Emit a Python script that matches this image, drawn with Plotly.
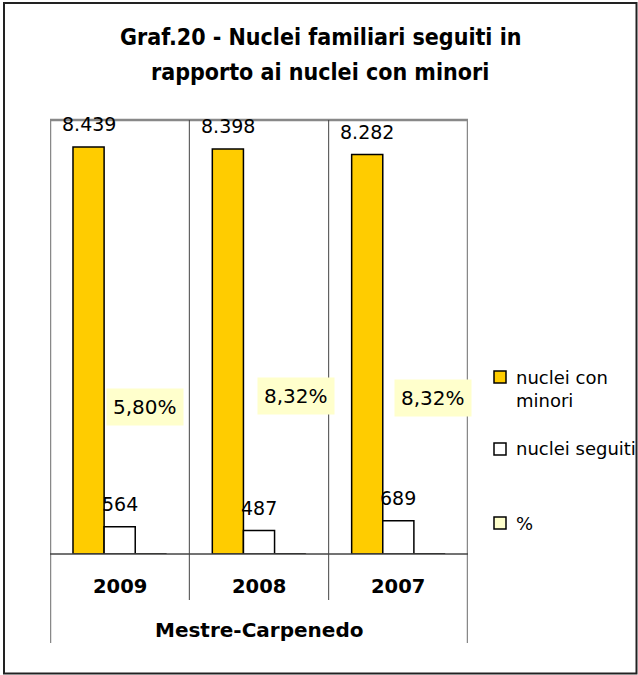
import plotly.graph_objects as go

# ---- data ----
years = ["2009", "2008", "2007"]
group_label = "Mestre-Carpenedo"
nuclei_con_minori = [8439, 8398, 8282]
nuclei_seguiti = [564, 487, 689]
percentuali = [5.80, 8.32, 8.32]
series_names = ["nuclei con<br>minori", "nuclei seguiti", "%"]
series_colors = ["#FFCC00", "#FFFFFF", "#FFFFCC"]
title_lines = ["Graf.20 - Nuclei familiari seguiti in", "rapporto ai nuclei con minori"]

def fmt_it(v):
    return f"{v:,}".replace(",", ".")

def fmt_pct(v):
    return f"{v:.2f}%".replace(".", ",")

# ---- geometry helpers (pixel -> paper) ----
W, H = 638, 675
L, R, T, B = 50, 468, 120, 554
def px(x):
    return (x - L) / (R - L)
def py(y):
    return (B - y) / (B - T)

FONT = "DejaVu Sans, sans-serif"
FONT_C = "DejaVu Sans Condensed, DejaVu Sans, sans-serif"
YMAX = 9000
BARGAP = 0.33
bw = (1 - BARGAP) / 3
xs = list(range(len(years)))

fig = go.Figure()
fig.add_trace(go.Bar(x=xs, y=nuclei_con_minori, name=series_names[0],
                     marker=dict(color=series_colors[0], line=dict(color="black", width=1.5))))
fig.add_trace(go.Bar(x=xs, y=nuclei_seguiti, name=series_names[1],
                     marker=dict(color=series_colors[1], line=dict(color="black", width=1.5))))
fig.add_trace(go.Bar(x=xs, y=percentuali, name=series_names[2],
                     marker=dict(color=series_colors[2], line=dict(color="black", width=1))))

txt = dict(family=FONT, color="black")
ann = []
# title
for k, line in enumerate(title_lines):
    ann.append(dict(x=px(320), y=py([37, 72][k]), xref="paper", yref="paper", text=f"<b>{line}</b>",
                    showarrow=False, xanchor="center", yanchor="middle",
                    font=dict(size=23, family=FONT_C, color="black")))
# value labels
for i, v in enumerate(nuclei_con_minori):
    ann.append(dict(x=i - bw, y=v, text=fmt_it(v), showarrow=False, yanchor="bottom",
                    yshift=10, font=dict(size=19, **txt)))
for i, v in enumerate(nuclei_seguiti):
    ann.append(dict(x=i, y=v, text=fmt_it(v), showarrow=False, yanchor="bottom",
                    yshift=10, font=dict(size=19, **txt)))
# percentage labels (placed mid-plot as in the original)
pct_label_pos = [(3048, -6), (3276, 6), (3235, 4)]
for i, v in enumerate(percentuali):
    yy, xsft = pct_label_pos[i]
    ann.append(dict(x=i + bw, y=yy, xshift=xsft, text=fmt_pct(v), showarrow=False,
                    yanchor="middle", bgcolor="#FFFFCC", borderpad=6,
                    font=dict(size=20, **txt)))
# category labels
for i, yr in enumerate(years):
    ann.append(dict(x=i, y=py(586), yref="paper", text=f"<b>{yr}</b>", showarrow=False,
                    yanchor="middle", font=dict(size=19.5, **txt)))
ann.append(dict(x=1, y=py(630), yref="paper", text=f"<b>{group_label}</b>", showarrow=False,
                yanchor="middle", font=dict(size=20, **txt)))

shapes = []
# outer frame
shapes.append(dict(type="rect", xref="paper", yref="paper", x0=px(4), x1=px(636.5), y0=py(673.5), y1=py(3),
                   line=dict(color="#222222", width=2)))
gray = "#888888"
shapes.append(dict(type="line", xref="x", yref="paper", x0=-0.5, x1=2.5, y0=1, y1=1,
                   line=dict(color=gray, width=2.5)))
for xv in (-0.5, 2.5):
    shapes.append(dict(type="line", xref="x", yref="paper", x0=xv, x1=xv, y0=1, y1=py(643),
                       line=dict(color=gray, width=2.5)))
for xv in (0.5, 1.5):
    shapes.append(dict(type="line", xref="x", yref="paper", x0=xv, x1=xv, y0=1, y1=py(600),
                       line=dict(color="#444444", width=1)))
shapes.append(dict(type="line", xref="x", yref="paper", x0=-0.5, x1=2.5, y0=0, y1=0,
                   line=dict(color="#444444", width=1.5)))

# legend (drawn to match the original's spacing)
legend_y = [377, 449, 523]
legend_line_y = [378, 449, 524]
for k, name in enumerate(series_names):
    yc = legend_y[k]
    shapes.append(dict(type="rect", xref="paper", yref="paper", x0=px(494), x1=px(506),
                       y0=py(yc + 6), y1=py(yc - 6), fillcolor=series_colors[k],
                       line=dict(color="black", width=1.5)))
    ann.append(dict(x=px(514), y=py(legend_line_y[k] - 13), xref="paper", yref="paper", text=name,
                    showarrow=False, xanchor="left", yanchor="top", align="left",
                    font=dict(size=18, **txt)))

fig.update_layout(
    width=W, height=H, autosize=False,
    margin=dict(l=L, r=W - R, t=T, b=H - B),
    paper_bgcolor="white", plot_bgcolor="white",
    barmode="group", bargap=BARGAP, bargroupgap=0,
    xaxis=dict(range=[-0.5, 2.5], showticklabels=False, showgrid=False, zeroline=False, ticks=""),
    yaxis=dict(range=[0, YMAX], visible=False, showgrid=False, zeroline=False),
    showlegend=False,
    annotations=ann, shapes=shapes,
)

post = ("document.body.style.margin='0';document.body.style.overflow='hidden';"
        "var gd=document.getElementById('{plot_id}');"
        "Plotly.relayout(gd,{width:638,height:675});")
fig.write_html("out.html", config={"responsive": False, "displayModeBar": False}, post_script=post)
